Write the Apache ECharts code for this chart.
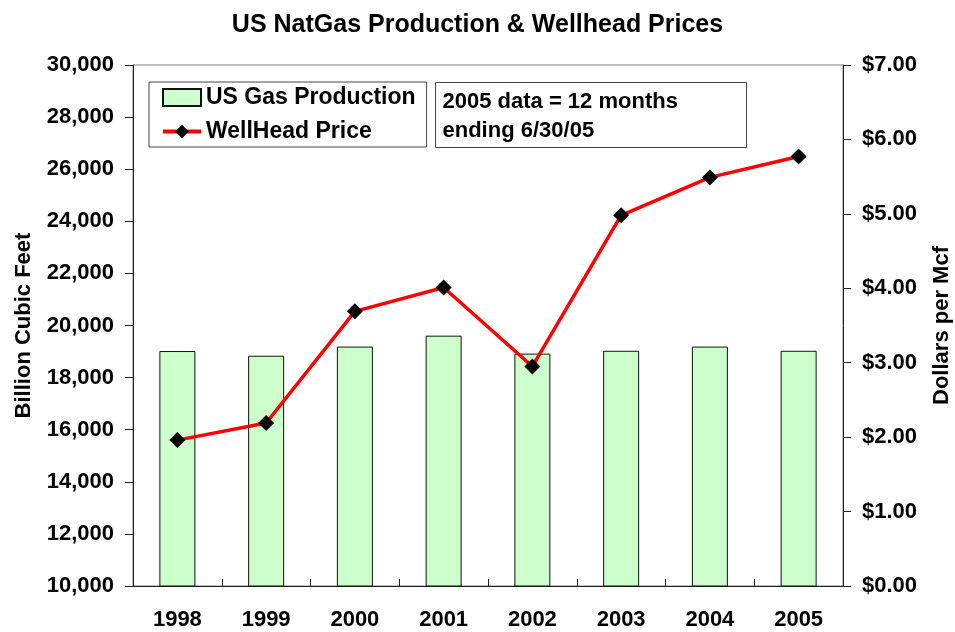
<!DOCTYPE html>
<html>
<head>
<meta charset="utf-8">
<title>US NatGas Production & Wellhead Prices</title>
<script src="https://cdn.jsdelivr.net/npm/echarts@6/dist/echarts.min.js"></script>
<style>
  html, body { margin: 0; padding: 0; background: #fff; }
  #chart { width: 955px; height: 632px; }
</style>
</head>
<body>
<div id="chart"></div>
<script>
// data
var years = ['1998', '1999', '2000', '2001', '2002', '2003', '2004', '2005']
// billion cubic feet
var production = [19020, 18840, 19190, 19610, 18920, 19030, 19190, 19030]
// dollars per Mcf
var wellheadPrice = [1.96, 2.19, 3.69, 4.01, 2.95, 4.98, 5.49, 5.77]

var FONT = 'Liberation Sans, Arial, sans-serif'
var noteLines = ['2005 data = 12 months', 'ending 6/30/05']

var chart = echarts.init(document.getElementById('chart'))

chart.setOption({
  animation: false,
  backgroundColor: '#fff',
  textStyle: { fontFamily: FONT },
  title: {
    text: 'US NatGas Production & Wellhead Prices',
    left: 'center',
    top: 8,
    textStyle: { fontFamily: FONT, fontSize: 25, fontWeight: 'bold', color: '#000' }
  },
  grid: {
    left: 133,
    right: 112,
    top: 65,
    bottom: 46,
    outerBoundsMode: 'none',
    show: true,
    borderColor: '#808080',
    borderWidth: 1
  },
  legend: {
    orient: 'vertical',
    left: 149,
    top: 82,
    padding: [4, 11, 4, 12],
    itemGap: 11,
    itemWidth: 38,
    itemHeight: 17,
    backgroundColor: '#fff',
    borderColor: '#444',
    borderWidth: 1,
    textStyle: { fontFamily: FONT, fontSize: 23, fontWeight: 'bold', color: '#000' },
    data: [
      { name: 'US Gas Production', icon: 'rect' },
      { name: 'WellHead Price', lineStyle: { width: 4, color: '#FF0000' } }
    ]
  },
  xAxis: [
    {
      type: 'category',
      data: years,
      boundaryGap: true,
      axisLine: { lineStyle: { color: '#222', width: 1 } },
      axisTick: { length: 8, lineStyle: { color: '#222' } },
      axisLabel: { margin: 23, fontFamily: FONT, fontSize: 22, fontWeight: 'bold', color: '#000' },
      splitLine: { show: false }
    },
    {
      // inside half of the crossing ticks
      type: 'category',
      data: years,
      position: 'bottom',
      offset: 0,
      boundaryGap: true,
      axisLine: { show: true, lineStyle: { color: '#222', width: 1 } },
      axisTick: { show: true, inside: true, length: 7, lineStyle: { color: '#222' } },
      axisLabel: { show: false },
      splitLine: { show: false }
    }
  ],
  yAxis: [
    {
      type: 'value',
      min: 10000,
      max: 30000,
      interval: 2000,
      name: 'Billion Cubic Feet',
      nameLocation: 'middle',
      nameRotate: 90,
      nameGap: 98,
      nameTextStyle: { fontFamily: FONT, fontSize: 22, fontWeight: 'bold', color: '#000' },
      axisLine: { show: true, lineStyle: { color: '#222', width: 1 } },
      axisTick: { show: true, length: 8, lineStyle: { color: '#222' } },
      axisLabel: {
        margin: 19,
        fontFamily: FONT,
        fontSize: 22,
        fontWeight: 'bold',
        color: '#000',
        formatter: function (v) { return v.toLocaleString('en-US') }
      },
      splitLine: { show: false }
    },
    {
      type: 'value',
      min: 0,
      max: 7,
      interval: 1,
      position: 'right',
      name: 'Dollars per Mcf',
      nameLocation: 'middle',
      nameRotate: 90,
      nameGap: 88,
      nameTextStyle: { fontFamily: FONT, fontSize: 22, fontWeight: 'bold', color: '#000' },
      axisLine: { show: true, lineStyle: { color: '#222', width: 1 } },
      axisTick: { show: true, length: 8, lineStyle: { color: '#222' } },
      axisLabel: {
        margin: 19,
        fontFamily: FONT,
        fontSize: 22,
        fontWeight: 'bold',
        color: '#000',
        formatter: function (v) { return '$' + v.toFixed(2) }
      },
      splitLine: { show: false }
    }
  ],
  graphic: [
    {
      type: 'group',
      left: 435,
      top: 82,
      children: [
        {
          type: 'rect',
          shape: { x: 0, y: 0, width: 311, height: 65 },
          style: { fill: '#fff', stroke: '#444', lineWidth: 1 }
        },
        {
          type: 'text',
          x: 7,
          y: 5,
          style: {
            text: noteLines.join('\n'),
            font: 'bold 22px ' + FONT,
            lineHeight: 29,
            fill: '#000'
          }
        }
      ]
    }
  ],
  series: [
    {
      name: 'US Gas Production',
      type: 'bar',
      xAxisIndex: 0,
      yAxisIndex: 0,
      barWidth: 36,
      data: production,
      itemStyle: { color: '#CCFFCC', borderColor: '#111', borderWidth: 1 }
    },
    {
      name: 'WellHead Price',
      type: 'line',
      xAxisIndex: 0,
      yAxisIndex: 1,
      data: wellheadPrice,
      symbol: 'diamond',
      symbolSize: 16,
      lineStyle: { color: '#FF0000', width: 3.5 },
      itemStyle: { color: '#000' },
      z: 3
    }
  ]
})
</script>
</body>
</html>
